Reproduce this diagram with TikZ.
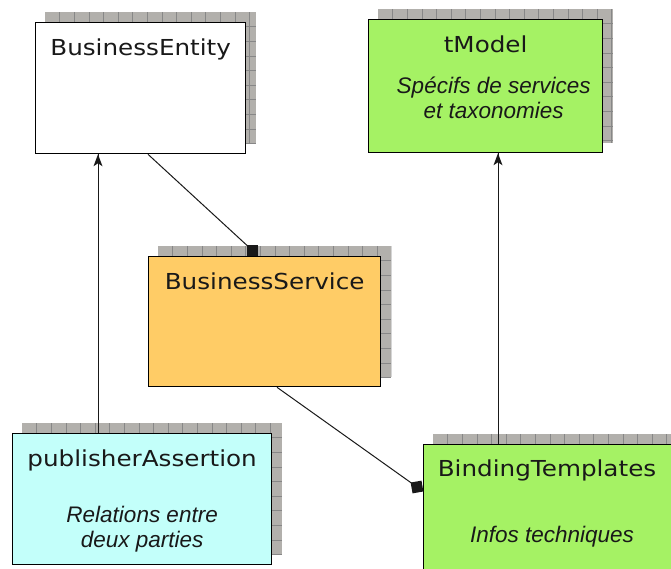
\documentclass[tikz,border=0pt]{standalone}
\usepackage{fontspec}
\setmainfont{Liberation Sans}
\newfontfamily\titlefont[FakeStretch=1.12]{DejaVu Sans}
\usetikzlibrary{backgrounds}
\definecolor{servicefill}{RGB}{255,204,102}
\definecolor{modelfill}{RGB}{165,242,100}
\definecolor{assertfill}{RGB}{195,255,250}
\definecolor{shadowgray}{RGB}{178,176,172}
\definecolor{gridgray}{RGB}{135,135,135}
\definecolor{inkdark}{RGB}{25,25,25}

\begin{document}
\begin{tikzpicture}[x=1pt,y=-1pt,
        box/.style={draw=black,line width=1.3pt,rectangle,anchor=north west,inner sep=0pt},
        title/.style={anchor=base,text=inkdark,font=\titlefont\fontsize{22}{26}\selectfont},
        info/.style={anchor=base,align=center,text=inkdark,font=\fontsize{22.5}{24.5}\selectfont\itshape},
        link/.style={line width=1pt,draw=inkdark},
        shadowgrid/.style={fill=shadowgray,path picture={
                \foreach \k in {1,...,20}{
                        \draw[gridgray,line width=0.6pt] ([xshift=\k*14.6pt]path picture bounding box.north west) -- ([xshift=\k*14.6pt]path picture bounding box.south west);
                        \draw[gridgray,line width=0.6pt] ([yshift=-\k*14.6pt]path picture bounding box.north west) -- ([yshift=-\k*14.6pt]path picture bounding box.north east);
                    }}}]
        \useasboundingbox (0,0) rectangle (671,568);

        % boxes
        \node[box,fill=white,minimum width=210pt,minimum height=131pt] (entity) at (35,22) {};
        \node[box,fill=modelfill,minimum width=234pt,minimum height=133pt] (model) at (368,19) {};
        \node[box,fill=servicefill,minimum width=232pt,minimum height=130pt] (service) at (148,256) {};
        \node[box,fill=assertfill,minimum width=259pt,minimum height=131pt] (assertion) at (12,433) {};
        \node[box,fill=modelfill,minimum width=270pt,minimum height=140pt] (binding) at (423,444) {};

        % shadows
        \begin{scope}[on background layer]
            \foreach \b in {entity,model,service,assertion,binding}{
                    \path[shadowgrid] ([shift={(10pt,10pt)}]\b.south west) rectangle ([shift={(10pt,10pt)}]\b.north east);
                }
        \end{scope}

        % texts (two-line base = last line)
        \node[title] (entityname) at ([yshift=-33pt]entity.north) {BusinessEntity};
        \node[title] (modelname) at ([yshift=-33pt]model.north) {tModel};
        \node[info] (modelinfo) at ([shift={(8pt,-99pt)}]model.north) {Spécifs de services\\et taxonomies};
        \node[title] (servicename) at ([yshift=-33pt]service.north) {BusinessService};
        \node[title] (assertionname) at ([yshift=-33pt]assertion.north) {publisherAssertion};
        \node[info] (assertioninfo) at ([yshift=-114pt]assertion.north) {Relations entre\\deux parties};
        \node[title] (bindingname) at ([shift={(124pt,-32pt)}]binding.north west) {BindingTemplates};
        \node[info] (bindinginfo) at ([shift={(129pt,-98pt)}]binding.north west) {Infos techniques};

        % connectors
        \coordinate (a1) at ([xshift=86pt]assertion.north west);
        \coordinate (a2) at ([xshift=75pt]binding.north west);
        \coordinate (t1) at (a1 |- entity.south);
        \coordinate (t2) at (a2 |- model.south);
        \draw[link] (a1) -- (t1);
        \draw[link] (a2) -- (t2);
        \foreach \t in {t1,t2}{
                \fill[inkdark] (\t) -- ++(-4.5,12) -- ++(4.5,-3) -- ++(4.5,3) -- cycle;
            }

        \coordinate (sq1) at ([shift={(104pt,6pt)}]service.north west);
        \coordinate (sq2) at ([shift={(-6pt,-43pt)}]binding.north west);
        \draw[link] ([xshift=113pt]entity.south west) -- (sq1);
        \draw[link] ([xshift=129pt]service.south west) -- (sq2);
        \fill[inkdark,shift={(sq1)}] (-5.5,-5.5) rectangle (5.5,5.5);
        \fill[inkdark,shift={(sq2)},rotate=10] (-5.5,-5.5) rectangle (5.5,5.5);
    \end{tikzpicture}
\end{document}
